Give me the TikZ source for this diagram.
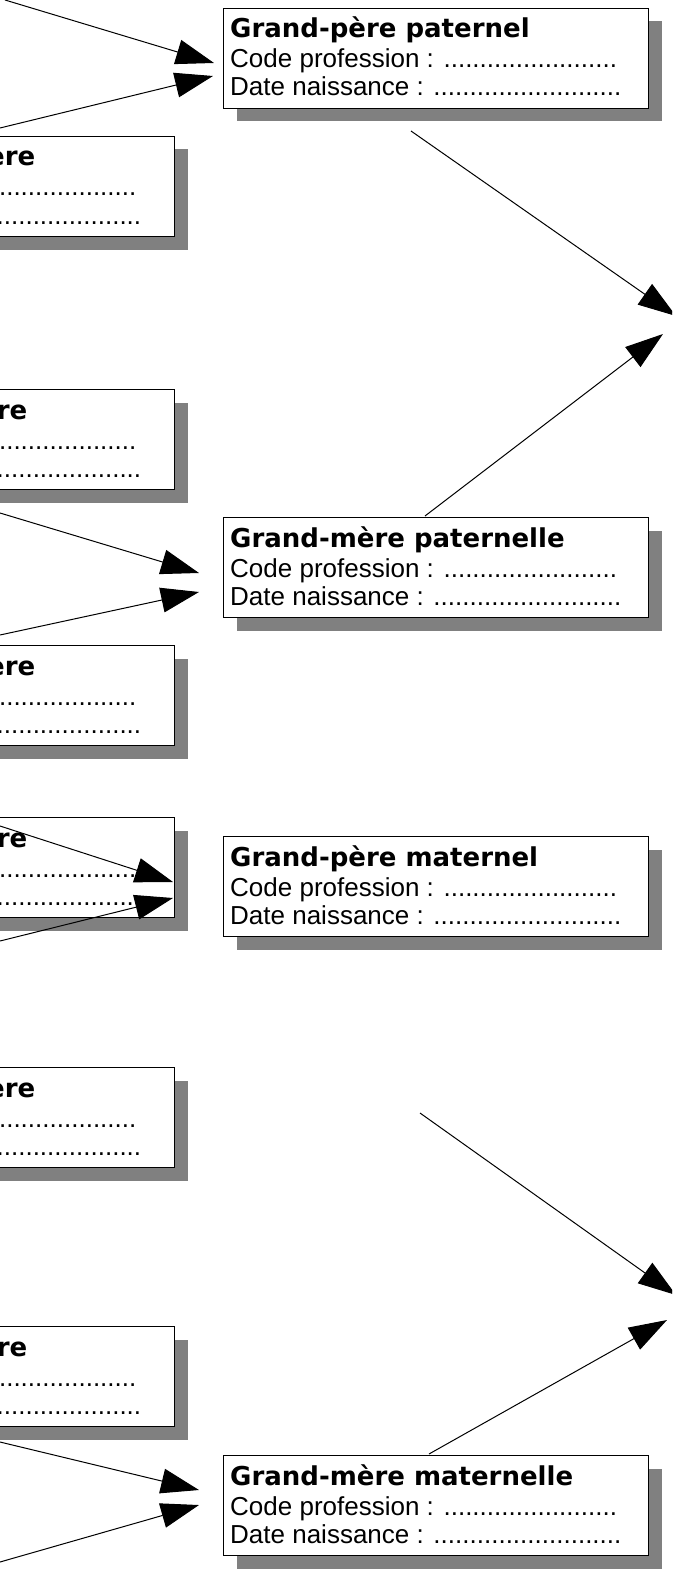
\documentclass[tikz,border=0pt]{standalone}
\usepackage{fontspec}
\setmainfont{Liberation Sans}
\newfontfamily\titlefont{DejaVu Sans}
\usetikzlibrary{arrows.meta,shadows,calc}
\definecolor{shadowgray}{RGB}{128,128,128}
\tikzset{
  famille/.style={draw=black, line width=1pt, fill=white, rectangle, inner sep=0pt,
    minimum width=425pt, minimum height=100pt, anchor=north west,
    drop shadow={shadow xshift=13pt, shadow yshift=-13pt, fill=shadowgray, opacity=1}},
  titre/.style={anchor=base west, inner sep=0pt, font=\titlefont\bfseries\fontsize{26}{31}\selectfont},
  champ/.style={anchor=base west, inner sep=0pt, font=\fontsize{26}{30}\selectfont},
  titrecoupe/.style={anchor=base east, inner sep=0pt, font=\titlefont\bfseries\fontsize{26}{31}\selectfont},
  champcoupe/.style={anchor=base east, inner sep=0pt, font=\fontsize{26}{30}\selectfont},
  fleche/.style={draw=black, line width=1pt, -{Triangle[length=38pt,width=25pt]}},
}
\newcommand{\famright}[3]{%
  \node[famille] (#1) at (223,#2) {};
  \node[titre] (#1-t) at ($(#1.north west)+(7,30)$) {#3};
  \node[champ] (#1-c) at ($(#1.north west)+(7,60)$) {Code profession : ........................};
  \node[champ] (#1-d) at ($(#1.north west)+(7,88)$) {Date naissance : ..........................};
}
\newcommand{\famleft}[4]{%
  \node[famille] (#1) at (-251,#2) {};
  \node[titrecoupe] (#1-t) at ($(#1.north east)+(#4,30)$) {#3};
  \node[champcoupe] (#1-c) at ($(#1.north east)+(-38.5,60)$) {....................};
  \node[champcoupe] (#1-d) at ($(#1.north east)+(-33.7,88)$) {....................};
}
\begin{document}
\begin{tikzpicture}[x=1pt,y=-1pt]
\useasboundingbox (0,0) rectangle (672,1573);
\clip (0,0) rectangle (672,1573);
\fill[white] (0,0) rectangle (672,1573);
% left (cut) boxes
\famleft{l1}{136}{ère}{-139.5}
\famleft{l2}{389}{re}{-147.5}
\famleft{l3}{645}{ère}{-139.5}
\famleft{l4}{817}{re}{-147.5}
\famleft{l5}{1067}{ère}{-139.5}
\famleft{l6}{1326}{re}{-147.5}
% right boxes
\famright{gpp}{8}{Grand-père paternel}
\famright{gmp}{517}{Grand-mère paternelle}
\famright{gpm}{836}{Grand-père maternel}
\famright{gmm}{1455}{Grand-mère maternelle}
% connector coordinates
\coordinate (a1s) at (5,0);    \coordinate (a1e) at (214,63);
\coordinate (a2s) at (0,128);  \coordinate (a2e) at (213,76);
\coordinate (b1s) at (0,513);  \coordinate (b1e) at (199,573);
\coordinate (b2s) at (0,635);  \coordinate (b2e) at (199,592);
\coordinate (c1s) at (411,131); \coordinate (c1e) at (676,316);
\coordinate (c2s) at (425,516); \coordinate (c2e) at (663,334);
\coordinate (d1s) at (0,826);  \coordinate (d1e) at (173,882);
\coordinate (d2s) at (0,941);  \coordinate (d2e) at (173,898);
\coordinate (e1s) at (0,1442); \coordinate (e1e) at (199,1490);
\coordinate (e2s) at (0,1562); \coordinate (e2e) at (199,1505);
\coordinate (f1s) at (420,1113); \coordinate (f1e) at (676,1295);
\coordinate (f2s) at (429,1454); \coordinate (f2e) at (667,1320);
\foreach \p in {a1,a2,b1,b2,c1,c2,d1,d2,e1,e2,f1,f2}
  \draw[fleche] (\p s) -- (\p e);
\end{tikzpicture}
\end{document}
